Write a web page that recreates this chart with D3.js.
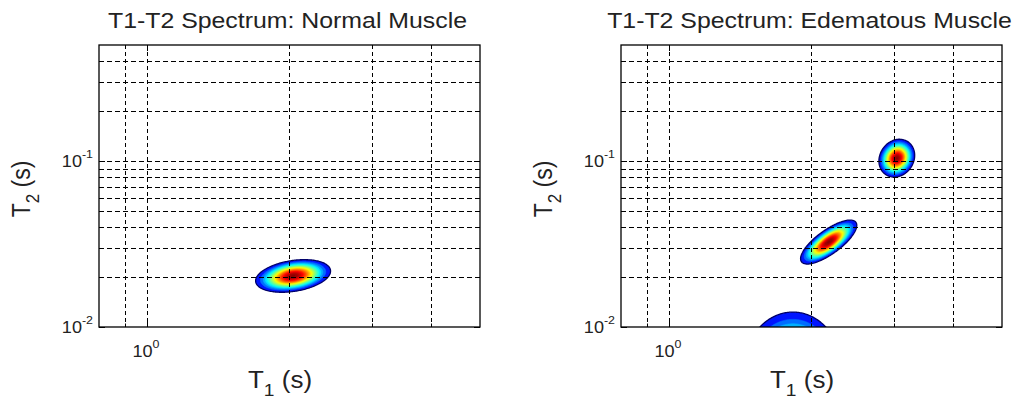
<!DOCTYPE html>
<html>
<head>
<meta charset="utf-8">
<script src="https://cdn.jsdelivr.net/npm/d3@7"></script>
<style>
  body { margin: 0; background: #fff; }
  svg { display: block; }
  text { font-family: "Liberation Sans", Arial, Helvetica, sans-serif; fill: #222; }
</style>
</head>
<body>
<svg id="chart" width="1016" height="402"></svg>
<script>
// ---- axis ranges and ticks (seconds, log scales) ----
const t1Domain = [0.791, 5.08];
const t2Domain = [0.01, 0.5];
const t1GridValues = [0.9, 1, 2, 3, 4];
const t2GridValues = [0.02, 0.03, 0.04, 0.05, 0.06, 0.07, 0.08, 0.09, 0.1, 0.2, 0.3, 0.4];
const t1MajorTicks = [1];
const t2MajorTicks = [0.01, 0.1];

const panelTitles = ["T1-T2 Spectrum: Normal Muscle", "T1-T2 Spectrum: Edematous Muscle"];

// ---- spectral components: centre T1, centre T2 (s), widths in decades, correlation ----
const normalPeaks = [
  { t1: 2.04, t2: 0.0203, w1: 0.030, w2: 0.037, rho: 0.30, amp: 1.0 }
];
const edemaPeaks = [
  { t1: 3.04, t2: 0.104,  w1: 0.0143, w2: 0.043, rho: 0.15, amp: 1.0 },
  { t1: 2.18, t2: 0.0325, w1: 0.0225, w2: 0.050, rho: 0.76, amp: 1.0 },
  { t1: 1.83, t2: 0.0056, w1: 0.039,  w2: 0.129, rho: 0.00, amp: 1.0 }
];

// contour levels (fraction of peak intensity) and jet colormap stops
const contourLevels = d3.range(0.03, 1.0, 0.04);
const jetStops = ["#000080", "#0000ff", "#00ffff", "#ffff00", "#ff0000", "#800000"];
const jetPos = [0, 0.125, 0.375, 0.625, 0.875, 1];

// ---- layout ----
const panelOffsets = [0, 522];
const plot = { left: 99, right: 480, top: 45, bottom: 327 };
const textStretch = 1.13;

const svg = d3.select("#chart");
const jet = d3.scaleLinear().domain(jetPos).range(jetStops).interpolate(d3.interpolateRgb).clamp(true);
// colour runs with a compressed (power) intensity axis
const levelColor = d3.scalePow().exponent(0.55).domain([0, 1]).range([0, 1]).clamp(true);

function drawPanel(ox, title, peaks, idx) {
  const x = d3.scaleLog().domain(t1Domain).range([plot.left + ox, plot.right + ox]);
  const y = d3.scaleLog().domain(t2Domain).range([plot.bottom, plot.top]);
  const g = svg.append("g");

  const clipId = "clip" + idx;
  svg.append("defs").append("clipPath").attr("id", clipId)
    .append("rect")
    .attr("x", x.range()[0]).attr("y", y.range()[1])
    .attr("width", x.range()[1] - x.range()[0])
    .attr("height", y.range()[0] - y.range()[1]);

  // sample the spectrum on a grid in log space (a little below the T2 floor so
  // clipped components keep their shape at the bottom edge)
  const nx = 381, ny = 300;
  const l1 = t1Domain.map(Math.log10);
  const l2 = [Math.log10(t2Domain[0]) - 0.1, Math.log10(t2Domain[1])];
  const dl1 = (l1[1] - l1[0]) / (nx - 1), dl2 = (l2[1] - l2[0]) / (ny - 1);
  const values = new Float64Array(nx * ny);
  for (let j = 0; j < ny; j++) {
    const b = l2[0] + j * dl2;
    for (let i = 0; i < nx; i++) {
      const a = l1[0] + i * dl1;
      let v = 0;
      for (const p of peaks) {
        const u = (a - Math.log10(p.t1)) / p.w1;
        const w = (b - Math.log10(p.t2)) / p.w2;
        const q = (u * u - 2 * p.rho * u * w + w * w) / (1 - p.rho * p.rho);
        v += p.amp * Math.exp(-0.5 * q);
      }
      values[j * nx + i] = v;
    }
  }
  const norm = d3.max(peaks, p => p.amp);
  for (let k = 0; k < values.length; k++) values[k] /= norm;

  const contours = d3.contours().size([nx, ny]).thresholds(contourLevels)(values);
  const proj = d3.geoTransform({
    point: function (gx, gy) {
      const t1 = Math.pow(10, l1[0] + (gx - 0.5) * dl1);
      const t2 = Math.pow(10, l2[0] + (gy - 0.5) * dl2);
      this.stream.point(x(t1), y(t2));
    }
  });
  const path = d3.geoPath(proj);

  const cg = g.append("g").attr("clip-path", `url(#${clipId})`);
  cg.selectAll("path").data(contours).join("path")
    .attr("d", path)
    .attr("fill", d => jet(levelColor(d.value)))
    .attr("stroke", (d, i) => i === 0 ? "#00006a" : jet(levelColor(d.value)))
    .attr("stroke-width", (d, i) => i === 0 ? 1.3 : 0.7);

  // dashed grid on top of the contours
  const grid = g.append("g").attr("stroke", "#000").attr("stroke-width", 1).attr("fill", "none");
  grid.selectAll("line.vx").data(t1GridValues).join("line")
    .attr("x1", d => Math.round(x(d)) + 0.5).attr("x2", d => Math.round(x(d)) + 0.5)
    .attr("y1", y.range()[1]).attr("y2", y.range()[0])
    .attr("stroke-dasharray", "4,3");
  grid.selectAll("line.hy").data(t2GridValues).join("line")
    .attr("y1", d => Math.round(y(d)) + 0.5).attr("y2", d => Math.round(y(d)) + 0.5)
    .attr("x1", x.range()[0]).attr("x2", x.range()[1])
    .attr("stroke-dasharray", "5,3");

  // tick marks (inside, all four sides)
  const ticks = g.append("g").attr("stroke", "#000").attr("stroke-width", 1);
  const xT = t1MajorTicks.map(v => ({ v, len: 6 })).concat(t1GridValues.filter(v => !t1MajorTicks.includes(v)).map(v => ({ v, len: 3.5 })));
  const yT = t2MajorTicks.map(v => ({ v, len: 6 })).concat(t2GridValues.filter(v => !t2MajorTicks.includes(v)).map(v => ({ v, len: 3.5 })));
  xT.forEach(t => {
    const px = Math.round(x(t.v)) + 0.5;
    ticks.append("line").attr("x1", px).attr("x2", px).attr("y1", y.range()[0]).attr("y2", y.range()[0] - t.len);
    ticks.append("line").attr("x1", px).attr("x2", px).attr("y1", y.range()[1]).attr("y2", y.range()[1] + t.len);
  });
  yT.forEach(t => {
    const py = Math.round(y(t.v)) + 0.5;
    ticks.append("line").attr("y1", py).attr("y2", py).attr("x1", x.range()[0]).attr("x2", x.range()[0] + t.len);
    ticks.append("line").attr("y1", py).attr("y2", py).attr("x1", x.range()[1]).attr("x2", x.range()[1] - t.len);
  });

  // axes box
  g.append("rect")
    .attr("x", x.range()[0]).attr("y", y.range()[1])
    .attr("width", x.range()[1] - x.range()[0])
    .attr("height", y.range()[0] - y.range()[1])
    .attr("fill", "none").attr("stroke", "#000").attr("stroke-width", 1.3);

  // tick labels as powers of ten
  const expOf = v => Math.round(Math.log10(v));
  t2MajorTicks.forEach(v => {
    const t = g.append("g").attr("transform", `translate(${x.range()[0] - 6},${y(v) + 6}) scale(${textStretch},1)`)
      .append("text").attr("text-anchor", "end").attr("font-size", 16);
    t.append("tspan").text("10");
    t.append("tspan").attr("dy", -9).attr("font-size", 11).text(String(expOf(v)));
  });
  t1MajorTicks.forEach(v => {
    const t = g.append("g").attr("transform", `translate(${x(v) - 1},${y.range()[0] + 30}) scale(${textStretch},1)`)
      .append("text").attr("text-anchor", "middle").attr("font-size", 16);
    t.append("tspan").text("10");
    t.append("tspan").attr("dy", -9).attr("font-size", 11).text(String(expOf(v)));
  });

  // title
  g.append("g").attr("transform", `translate(${ox + 287.5},28) scale(${textStretch},1)`)
    .append("text").attr("text-anchor", "middle").attr("font-size", 22).text(title);

  // axis labels with subscripts
  const xl = g.append("g").attr("transform", `translate(${ox + 280},388) scale(${textStretch},1)`)
    .append("text").attr("text-anchor", "middle").attr("font-size", 23);
  xl.append("tspan").text("T");
  xl.append("tspan").attr("dy", 8).attr("font-size", 17).text("1");
  xl.append("tspan").attr("dy", -8).text(" (s)");

  const yl = g.append("g").attr("transform", `translate(${ox + 30},189) rotate(-90) scale(1,${textStretch})`)
    .append("text").attr("text-anchor", "middle").attr("font-size", 23);
  yl.append("tspan").text("T");
  yl.append("tspan").attr("dy", 8).attr("font-size", 17).text("2");
  yl.append("tspan").attr("dy", -8).text(" (s)");
}

drawPanel(panelOffsets[0], panelTitles[0], normalPeaks, 0);
drawPanel(panelOffsets[1], panelTitles[1], edemaPeaks, 1);
</script>
</body>
</html>
